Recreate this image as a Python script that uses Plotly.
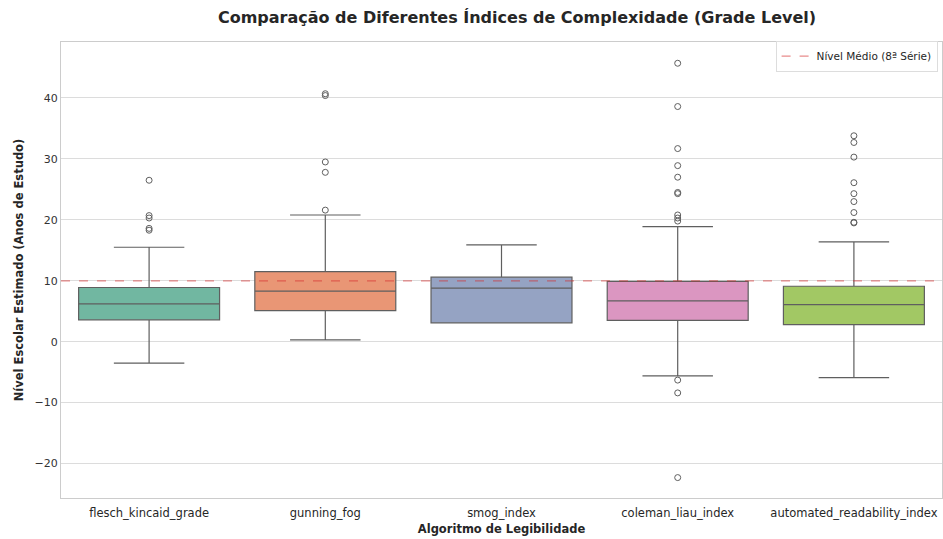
import plotly.graph_objects as go

categories = ["flesch_kincaid_grade", "gunning_fog", "smog_index", "coleman_liau_index", "automated_readability_index"]
q1 = [3.6, 5.1, 3.1, 3.5, 2.8]
median = [6.2, 8.3, 8.8, 6.7, 6.1]
q3 = [8.9, 11.5, 10.6, 9.9, 9.1]
lower_whisker = [-3.5, 0.3, 3.1, -5.6, -5.9]
upper_whisker = [15.5, 20.8, 15.9, 18.9, 16.4]
outliers = [
    [26.5, 20.7, 20.3, 18.6, 18.3],
    [40.7, 40.4, 29.5, 27.8, 21.6],
    [],
    [45.7, 38.6, 31.7, 28.9, 27.0, 24.5, 24.3, 20.8, 20.3, 19.8, -6.3, -8.4, -22.3],
    [33.8, 32.7, 30.3, 26.1, 24.3, 23.0, 21.2, 19.6, 19.5],
]
colors = ["#71b7a1", "#e99675", "#95a3c3", "#db96c1", "#a2c864"]
ref_level = 10
ref_label = "Nível Médio (8ª Série)"

FONT = "DejaVu Sans"
EDGE = "#5f5f5f"
REFCOL = "rgba(214,45,45,0.55)"

fig = go.Figure()
for i, cat in enumerate(categories):
    fig.add_trace(go.Box(
        x=[cat], q1=[q1[i]], median=[median[i]], q3=[q3[i]],
        lowerfence=[lower_whisker[i]], upperfence=[upper_whisker[i]],
        fillcolor=colors[i], line=dict(color=EDGE, width=1.2),
        width=0.8, whiskerwidth=0.5, boxpoints=False, showlegend=False,
        hoverinfo="skip",
    ))
for i, cat in enumerate(categories):
    if outliers[i]:
        fig.add_trace(go.Scatter(
            x=[cat] * len(outliers[i]), y=outliers[i], mode="markers",
            marker=dict(symbol="circle-open", size=6, color=EDGE, line=dict(width=1)),
            showlegend=False, hoverinfo="skip",
        ))

fig.add_shape(type="line", xref="paper", x0=0, x1=1, yref="y", y0=ref_level, y1=ref_level,
              line=dict(color=REFCOL, width=1.2, dash="dash"), layer="above")
fig.add_trace(go.Scatter(x=[None], y=[None], mode="lines", name=ref_label,
                         line=dict(color=REFCOL, width=1.2, dash="dash")))

fig.update_layout(
    width=943, height=539,
    margin=dict(l=61, r=1, t=42, b=41),
    paper_bgcolor="white", plot_bgcolor="white",
    font=dict(family=FONT, color="#262626", size=11),
    boxmode="overlay",
    title=dict(text="<b>Comparação de Diferentes Índices de Complexidade (Grade Level)</b>",
               x=0.5176, xref="paper", xanchor="center", y=0.968, yanchor="middle",
               font=dict(size=16, family=FONT, color="#262626")),
    legend=dict(x=0.995, y=0.969, xanchor="right", yanchor="middle",
                bgcolor="rgba(255,255,255,0.8)", bordercolor="#dddddd", borderwidth=1,
                font=dict(size=10.5, family=FONT), itemwidth=30),
    showlegend=True,
)
fig.update_xaxes(
    type="category", categoryorder="array", categoryarray=categories,
    range=[-0.5, 4.5], showgrid=False, showline=True, mirror=True, linecolor="#cccccc",
    linewidth=1, ticks="", tickfont=dict(size=11.5), ticklabelstandoff=4,
    title=dict(text="<b>Algoritmo de Legibilidade</b>", font=dict(size=11.5), standoff=6),
)
fig.update_yaxes(
    range=[-25.65, 49.19], tickvals=[-20, -10, 0, 10, 20, 30, 40],
    showgrid=True, gridcolor="#dcdcdc", gridwidth=1, zeroline=False,
    showline=True, mirror=True, linecolor="#cccccc", linewidth=1,
    ticks="", tickfont=dict(size=11, color="#333333"),
    title=dict(text="<b>Nível Escolar Estimado (Anos de Estudo)</b>", font=dict(size=11.5), standoff=8),
)

fig.write_html("out.html", config={"displayModeBar": False},
               post_script="document.body.style.margin='0';document.body.style.overflow='hidden';")
